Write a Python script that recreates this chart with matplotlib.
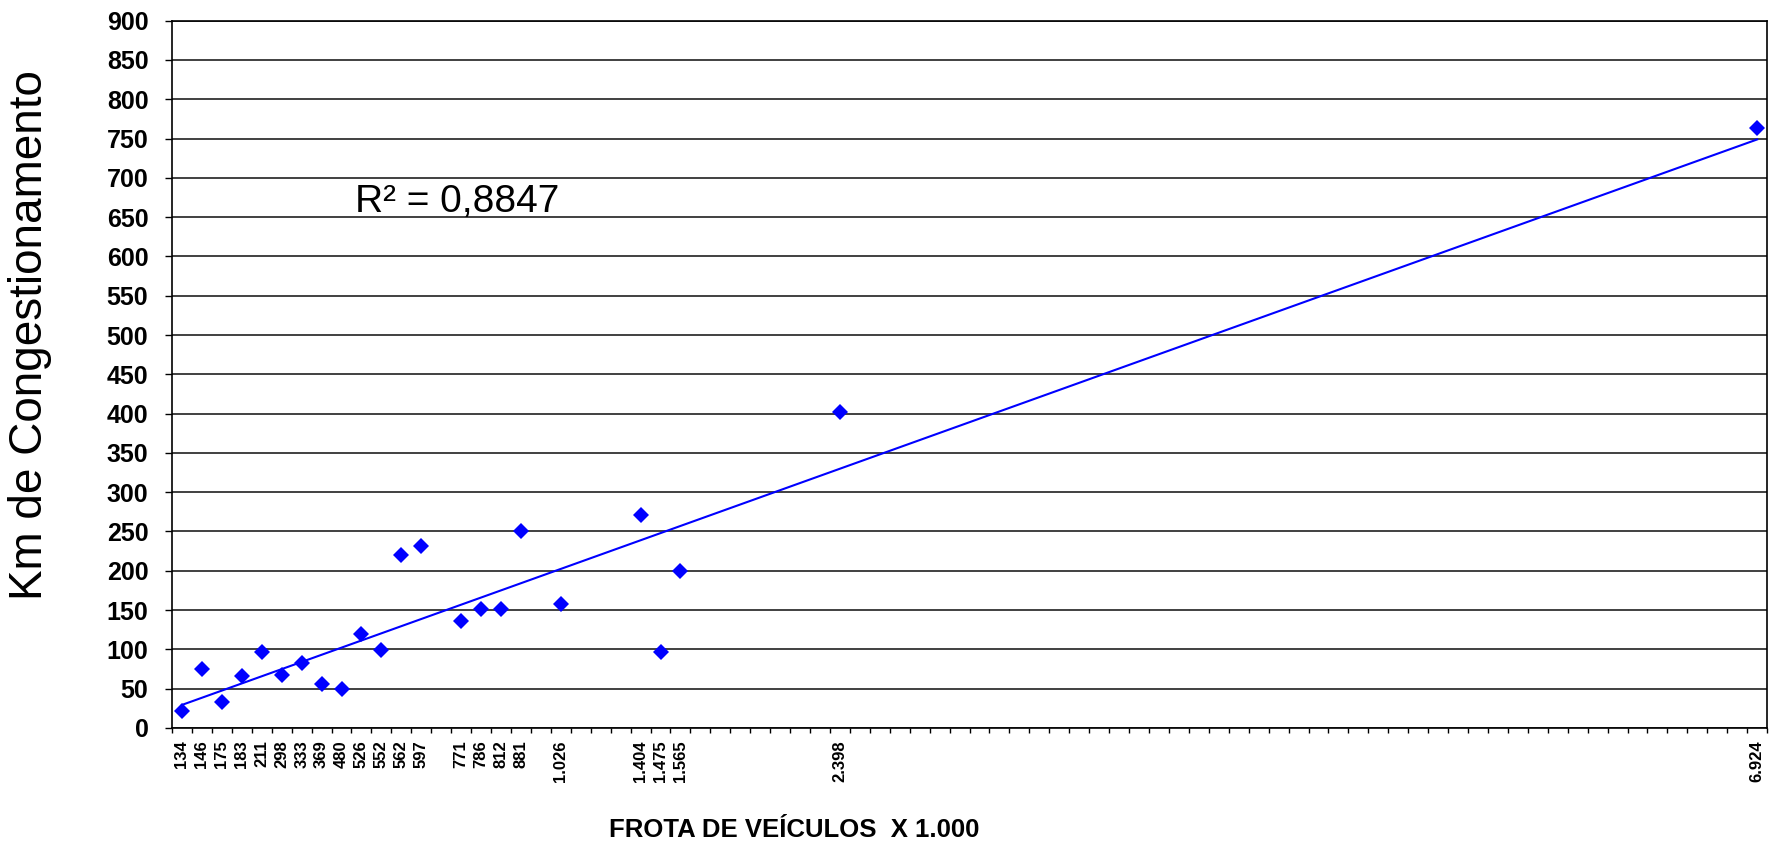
import numpy as np
import matplotlib.pyplot as plt
from matplotlib.ticker import FixedLocator, NullFormatter

plt.rcParams['font.family'] = ['Liberation Sans', 'DejaVu Sans']

# fleet size (x 1.000 vehicles) and km of congestion per city
fleet = ["134", "146", "175", "183", "211", "298", "333", "369", "480", "526",
         "552", "562", "597", "771", "786", "812", "881", "1.026", "1.404",
         "1.475", "1.565", "2.398", "6.924"]
km = [21, 75, 33, 66, 97, 67, 83, 56, 50, 119,
      99, 220, 232, 136, 152, 151, 251, 158, 271,
      97, 200, 402, 763]
# row of each city on the category axis (blank rows have no data)
slot = [0, 1, 2, 3, 4, 5, 6, 7, 8, 9,
        10, 11, 12, 14, 15, 16, 17, 19, 23,
        24, 25, 33, 79]
N_SLOTS = 80
r2_text = "R² = 0,8847"

fig = plt.figure(figsize=(17.79, 8.66), dpi=100)
ax = fig.add_axes([0.0967, 0.1594, 0.9933 - 0.0967, 0.9761 - 0.1594])

ax.plot(slot, km, linestyle="none", marker="D", markersize=8.5,
        color="#0000ff", markeredgewidth=0, zorder=3)

# linear trendline over the category rows
coef = np.polyfit(slot, km, 1)
xs = np.array([slot[0], slot[-1]])
ax.plot(xs, np.polyval(coef, xs), color="#0000ff", lw=1.5, zorder=4)

ax.text(8.67, 657, r2_text, fontsize=28, va="baseline", ha="left")

ax.set_xlim(-0.5, N_SLOTS - 0.5)
ax.set_ylim(0, 900)
ax.set_yticks(np.arange(0, 901, 50))
ax.yaxis.grid(True, color="#202020", lw=1.2)
ax.set_axisbelow(True)

# tick marks on row boundaries, labels on row centres
ax.xaxis.set_major_locator(FixedLocator(np.arange(N_SLOTS + 1) - 0.5))
ax.xaxis.set_major_formatter(NullFormatter())
labels = [""] * N_SLOTS
for s, f in zip(slot, fleet):
    labels[s] = f
ax.set_xticks(np.arange(N_SLOTS), labels=labels, minor=True)
ax.tick_params(axis="x", which="major", direction="out", length=3.5, width=1)
ax.tick_params(axis="x", which="minor", length=0, pad=9, labelsize=12,
               labelrotation=90)
for t in ax.get_xticklabels(minor=True):
    t.set_fontweight("bold")

ax.tick_params(axis="y", direction="out", length=5, width=1, pad=12,
               labelsize=18)
for t in ax.get_yticklabels():
    t.set_fontweight("bold")

for sp in ax.spines.values():
    sp.set_color("black")
    sp.set_linewidth(1.2)

fig.text(0.017, 0.613, "Km de Congestionamento", rotation=90, fontsize=33,
         ha="center", va="center")
fig.text(794 / 1779, 0.0416, "FROTA DE VEÍCULOS  X 1.000", fontsize=18.5,
         fontweight="bold", ha="center", va="center")

fig.savefig("out.png", dpi=100)
